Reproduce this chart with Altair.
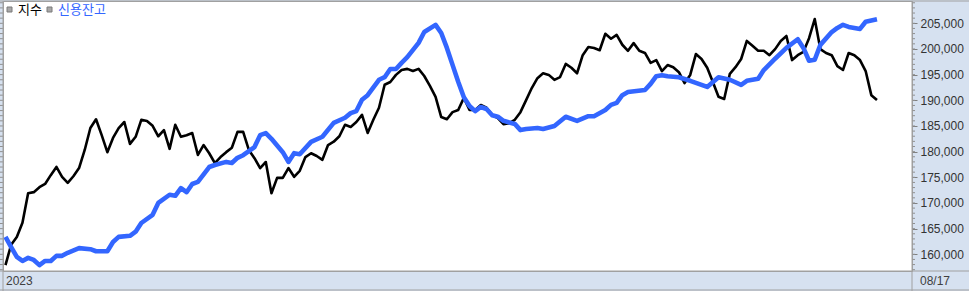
import altair as alt
import pandas as pd

# ---- data (trading-day index from 2023-01-02 to 08/17) ----
trading_day = list(range(155))
kospi = [2218, 2255, 2269, 2295, 2349, 2351, 2360, 2366, 2382, 2397,
         2379, 2368, 2380, 2395, 2428, 2468, 2484, 2455, 2424, 2450,
         2468, 2479, 2439, 2452, 2483, 2481, 2472, 2453, 2464, 2430,
         2474, 2452, 2455, 2459, 2419, 2437, 2422, 2404, 2415, 2424,
         2432, 2461, 2461, 2428, 2413, 2395, 2406, 2349, 2377, 2377,
         2395, 2379, 2390, 2415, 2422, 2417, 2410, 2437, 2443, 2453,
         2474, 2470, 2479, 2492, 2459, 2483, 2505, 2547, 2552, 2565,
         2574, 2576, 2572, 2576, 2563, 2545, 2525, 2488, 2484, 2497,
         2501, 2523, 2501, 2501, 2510, 2505, 2492, 2486, 2475, 2477,
         2483, 2497, 2519, 2541, 2559, 2568, 2565, 2556, 2561, 2585,
         2578, 2568, 2601, 2616, 2614, 2610, 2640, 2631, 2638, 2620,
         2609, 2623, 2609, 2605, 2587, 2592, 2572, 2583, 2579, 2570,
         2550, 2565, 2603, 2594, 2578, 2552, 2525, 2521, 2567, 2579,
         2594, 2627, 2618, 2609, 2609, 2601, 2612, 2627, 2636, 2592,
         2601, 2607, 2632, 2667, 2612, 2605, 2601, 2581, 2574, 2605,
         2601, 2592, 2572, 2528, 2519]

credit_day = [0, 1, 2, 3, 4, 5, 6, 7, 8, 9, 10, 11, 13, 15, 16, 18, 19, 20,
              22, 23, 24, 26, 27, 29, 30, 31, 32, 33, 34,
              36, 37, 39, 40, 41, 42, 44, 45, 46, 47, 49, 50, 51, 52, 54, 56, 58,
              60, 61, 62, 63, 64, 66, 67, 68, 69, 70, 71, 73, 74, 76, 77, 78, 79, 80,
              81, 82, 83, 84, 85, 86, 87, 88, 90, 91, 92, 94, 95, 97, 99,
              101, 103, 104, 106, 107, 108, 109, 110, 113, 114, 115, 116, 117, 119,
              121, 124, 126, 128, 130, 131, 133, 134, 136, 138, 140, 141, 142, 143,
              144, 146, 147, 148, 149, 151, 152, 154]
credit = [163400, 161400, 159500, 158700, 159300, 158900, 157900, 158700, 158700, 159700,
          159700, 160300, 161200, 161000, 160600, 160600, 162400, 163400,
          163600, 164400, 166100, 167700, 170000, 171600, 171400, 172900, 172100, 173700, 174100,
          177000, 177400, 178000, 177800, 178800, 179300, 180900, 183200, 183600, 182500,
          179900, 178000, 179700, 179500, 181900, 182900, 185600,
          186600, 187500, 187900, 190100, 191000, 194000, 194500, 196100, 196100, 197300,
          198400, 201200, 203300, 204700, 203100, 200200, 196900, 193600,
          190600, 188900, 187900, 188700, 188300, 187100, 186800, 186000, 185400, 184200,
          184400, 184600, 184400, 185000, 186800,
          186000, 186900, 186900, 188100, 189100, 189500, 191000, 191600, 192000, 193200,
          194700, 194900, 194700, 194500,
          193800, 192600, 194500, 194000, 193000, 193800, 194200, 195900, 198100, 200200,
          201900, 200200, 197700, 197900, 200800, 203300, 204100, 204700, 204300, 203900,
          205300, 205800]

axis_values = [160000, 165000, 170000, 175000, 180000, 185000, 190000, 195000, 200000, 205000]
minor_ticks = list(range(157000, 210000, 1000))
legend_labels = ["지수", "신용잔고"]
start_label = "2023"
end_label = "08/17"

BLUE = "#3366ff"
FRAME = "#a0a0a0"
PANEL = "#d6e1f0"
LABEL_FONT = "Liberation Sans"

W, H = 909, 270
x_scale = alt.Scale(domain=[-0.44, 160.19], nice=False, zero=False)
y_credit = alt.Scale(domain=[156747, 209344], nice=False, zero=False)
y_index = alt.Scale(domain=[2207.1, 2699.85], nice=False, zero=False)

df_idx = pd.DataFrame({"day": trading_day, "kospi": kospi})
df_cr = pd.DataFrame({"day": credit_day, "credit": credit})
df_minor = pd.DataFrame({"v": minor_ticks})
one = pd.DataFrame({"a": [0]})

black = alt.Chart(df_idx).mark_line(color="#000000", strokeWidth=2.6, strokeJoin="round").encode(
    x=alt.X("day:Q", scale=x_scale, axis=None),
    y=alt.Y("kospi:Q", scale=y_index, axis=None),
)

blue = alt.Chart(df_cr).mark_line(color=BLUE, strokeWidth=4.6, strokeJoin="round").encode(
    x=alt.X("day:Q", scale=x_scale, axis=None),
    y=alt.Y("credit:Q", scale=y_credit,
            axis=alt.Axis(orient="right", values=axis_values, format=",.0f", tickSize=5,
                          tickColor="#808080", domain=False, grid=False, labels=True,
                          labelFont=LABEL_FONT, labelFontSize=12, labelColor="#333333",
                          labelPadding=3, title=None)),
)

minor_right = alt.Chart(df_minor).mark_rule(color="#909090", strokeWidth=1).encode(
    y=alt.Y("v:Q", scale=y_credit, axis=None), x=alt.value(909), x2=alt.value(912))
minor_left = alt.Chart(df_minor).mark_rule(color="#909090", strokeWidth=1).encode(
    y=alt.Y("v:Q", scale=y_credit, axis=None), x=alt.value(-3), x2=alt.value(0))


def hline(y):
    return alt.Chart(one).mark_rule(color=FRAME, strokeWidth=1).encode(
        x=alt.value(-3), x2=alt.value(966), y=alt.value(y))


def vline(x):
    return alt.Chart(one).mark_rule(color=FRAME, strokeWidth=1).encode(
        x=alt.value(x), y=alt.value(0), y2=alt.value(290))


def square(x0):
    return alt.Chart(one).mark_rect(color="#a8a8a8", stroke="#7a7a7a", strokeWidth=1).encode(
        x=alt.value(x0), x2=alt.value(x0 + 5), y=alt.value(6), y2=alt.value(11))


def label(txt, x, y, color, font, size):
    return alt.Chart(one).mark_text(text=txt, align="left", baseline="middle", color=color,
                                    font=font, fontSize=size).encode(
        x=alt.value(x), y=alt.value(y))


KFONT = "Noto Sans CJK KR"
layers = [
    black, blue, minor_right, minor_left,
    hline(0), hline(270), hline(289), vline(0), vline(909),
    square(4), label(legend_labels[0], 15, 9, "#000000", KFONT, 13),
    square(44), label(legend_labels[1], 55, 9, BLUE, KFONT, 13),
    label(start_label, 3, 280, "#404040", LABEL_FONT, 12),
    label(end_label, 917, 280, "#404040", LABEL_FONT, 12),
]

chart = alt.layer(*layers).resolve_scale(y="independent").properties(
    width=W, height=H, autosize="none",
    padding={"left": 3, "top": 1, "right": 57, "bottom": 20},
    background=PANEL,
).configure_view(fill="white", stroke=FRAME)

chart.save("out.html", embed_options={"renderer": "svg", "actions": False})
